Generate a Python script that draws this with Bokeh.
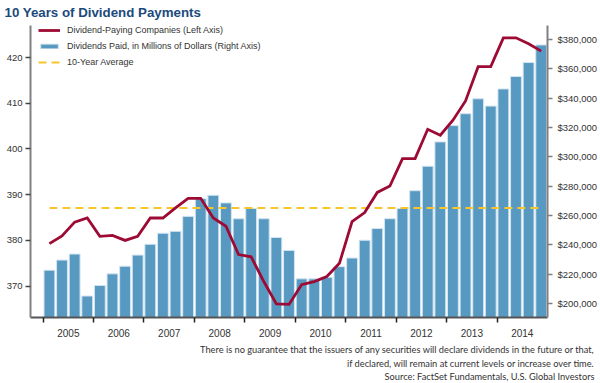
from bokeh.plotting import figure
from bokeh.models import (Range1d, LinearAxis, FixedTicker, NumeralTickFormatter,
                          Legend, LegendItem, Title)
from bokeh.embed import file_html
from bokeh.resources import INLINE

# ---------------- data ----------------
years = [2005, 2006, 2007, 2008, 2009, 2010, 2011, 2012, 2013, 2014]
year_labels = ["2005", "2006", "2007", "2008", "2009", "2010", "2011", "2012", "2013", "2014"]

# Dividend-paying companies (left axis), quarterly 2005Q1 .. 2014Q4
companies = [379.3, 381.0, 384.0, 384.9, 380.9, 381.1, 380.0, 380.9,
             384.9, 384.9, 387.1, 389.2, 389.2, 384.9, 383.1, 376.9,
             376.4, 371.0, 366.1, 366.0, 370.3, 371.0, 372.1, 375.0,
             384.1, 386.1, 390.5, 391.9, 397.9, 397.9, 404.3, 403.0,
             406.3, 410.5, 418.0, 418.0, 424.3, 424.3, 423.0, 421.4]

# Dividends paid, millions of dollars (right axis), quarterly
dividends = [222800, 229700, 233800, 205200, 212400, 220300, 225500, 233100,
             240500, 248000, 249300, 259500, 271600, 273900, 268700, 257900,
             264900, 257900, 245100, 236300, 216900, 216900, 218000, 225200,
             231100, 243200, 251200, 257900, 264900, 277000, 293700, 310300,
             321400, 329500, 339700, 334700, 346400, 354900, 364400, 376400]

ten_year_average = 387.1

left_ticks = [370, 380, 390, 400, 410, 420]
right_ticks = [200000, 220000, 240000, 260000, 280000, 300000, 320000, 340000, 360000, 380000]

title_text = "10 Years of Dividend Payments"
legend_labels = ["Dividend-Paying Companies (Left Axis)",
                 "Dividends Paid, in Millions of Dollars (Right Axis)",
                 "10-Year Average"]
footer_lines = ["There is no guarantee that the issuers of any securities will declare dividends in the future or that,",
                "if declared, will remain at current levels or increase over time.",
                "Source: FactSet Fundamentals, U.S. Global Investors"]

# ---------------- styling ----------------
BAR = "#5899c1"
BAR_EDGE = "#d2e5f0"
RED = "#9d0b34"
GOLD = "#f8c52c"
TITLE = "#1b4a7d"
TXT = "#333333"
FONT = "Liberation Sans"
FOOT = "Lato"

n = len(companies)
qx = [years[0] + (i + 0.5) / 4 for i in range(n)]

p = figure(width=600, height=383, output_backend="svg", toolbar_location=None,
           x_range=Range1d(2004.75, 2015.0), y_range=Range1d(363.14, 427.0),
           min_border_left=30, min_border_right=53, min_border_top=25, min_border_bottom=63)
p.extra_y_ranges = {"usd": Range1d(190540, 389660)}
p.xgrid.visible = False
p.ygrid.visible = False
p.outline_line_color = None

p.title = Title(text=title_text, align="left", offset=-26, standoff=8, vertical_align="top",
                text_font=FONT, text_font_style="bold", text_font_size="13.3px",
                text_color=TITLE)

bars = p.vbar(x=qx, top=dividends, bottom=0, width=0.215, y_range_name="usd",
              fill_color=BAR, line_color=BAR_EDGE, line_width=1)
avg = p.line(x=[qx[0], qx[-1]], y=[ten_year_average, ten_year_average],
             line_color=GOLD, line_width=2, line_dash="8 5")
comp = p.line(x=qx, y=companies, line_color=RED, line_width=2.8, line_join="miter")

legend = Legend(items=[LegendItem(label=legend_labels[0], renderers=[comp]),
                       LegendItem(label=legend_labels[1], renderers=[bars]),
                       LegendItem(label=legend_labels[2], renderers=[avg])],
                location=(8, 249), padding=0, margin=0, spacing=4,
                glyph_width=22, glyph_height=6, label_height=12, label_standoff=7,
                label_text_font=FONT, label_text_font_size="9px", label_text_color=TXT,
                border_line_alpha=0, background_fill_alpha=0)
p.add_layout(legend)

# left axis
ya = p.yaxis[0]
ya.ticker = FixedTicker(ticks=left_ticks)
ya.axis_line_color = "#808080"
ya.axis_line_width = 2
ya.major_tick_out = 5
ya.major_tick_in = 0
ya.major_tick_line_color = "#444444"
ya.major_tick_line_width = 1.5
ya.minor_tick_line_color = None
ya.major_label_standoff = 3
ya.major_label_text_font = FONT
ya.major_label_text_font_size = "9.5px"
ya.major_label_text_color = TXT

# right axis
ra = LinearAxis(y_range_name="usd", ticker=FixedTicker(ticks=right_ticks),
                formatter=NumeralTickFormatter(format="$0,0"))
ra.axis_line_color = "#808080"
ra.axis_line_width = 2
ra.major_tick_out = 5
ra.major_tick_in = 0
ra.major_tick_line_color = "#808080"
ra.major_tick_line_width = 1.5
ra.minor_tick_line_color = None
ra.major_label_standoff = 5
ra.major_label_text_font = FONT
ra.major_label_text_font_size = "9.5px"
ra.major_label_text_color = TXT
p.add_layout(ra, "right")

# bottom axis: labels centred in each year, ticks at year boundaries
xa = p.xaxis[0]
xa.ticker = FixedTicker(ticks=[y + 0.5 for y in years], minor_ticks=years)
xa.major_label_overrides = {y + 0.5: lab for y, lab in zip(years, year_labels)}
xa.axis_line_color = "#555555"
xa.axis_line_width = 2
xa.major_tick_line_color = None
xa.major_tick_out = 0
xa.major_tick_in = 0
xa.minor_tick_out = 5
xa.minor_tick_in = 0
xa.minor_tick_line_color = "#222222"
xa.minor_tick_line_width = 1.5
xa.major_label_standoff = 6
xa.major_label_text_font = FONT
xa.major_label_text_font_size = "10px"
xa.major_label_text_color = TXT

# footer notes as titles below the chart, right aligned at the canvas edge
for txt, so, va in zip(footer_lines, [5, 0, 0], ["bottom", "top", "top"]):
    p.add_layout(Title(text=txt, align="right", offset=-47, standoff=so, vertical_align=va,
                       text_font=FOOT, text_font_style="normal", text_font_size="9.25px",
                       text_color=TXT), "below")

open("out.html", "w").write(file_html(p, INLINE))
